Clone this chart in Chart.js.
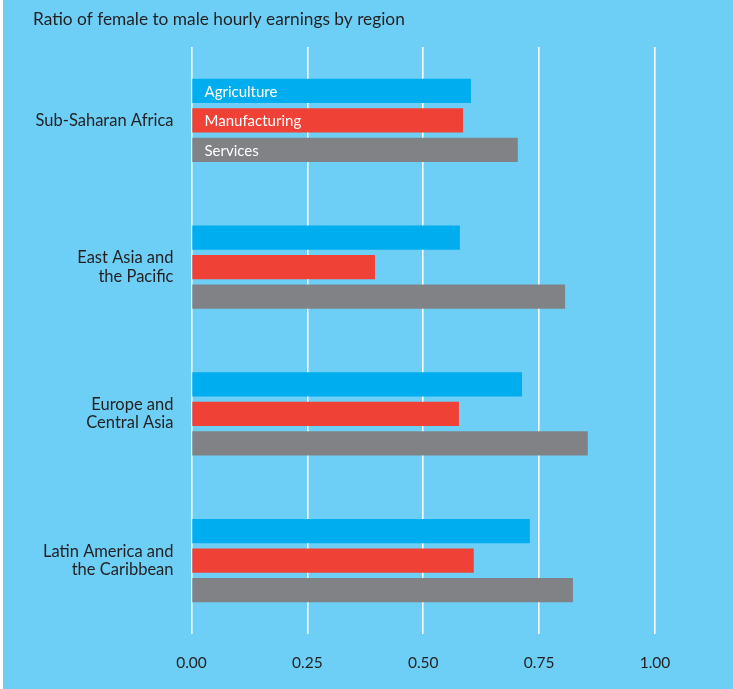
<!DOCTYPE html>
<html>
<head>
<meta charset="utf-8">
<script src="https://cdn.jsdelivr.net/npm/chart.js@4"></script>
<style>
  html, body { margin: 0; padding: 0; background: #ffffff; }
  #wrap { position: absolute; left: 3px; top: 0; width: 730px; height: 689px; background: #6dcff6; }
  canvas { display: block; }
</style>
</head>
<body>
<div id="wrap"><canvas id="c" width="730" height="689"></canvas></div>
<script>
const titleText = 'Ratio of female to male hourly earnings by region';
const categories = [
  ['Sub-Saharan Africa'],
  ['East Asia and', 'the Pacific'],
  ['Europe and', 'Central Asia'],
  ['Latin America and', 'the Caribbean']
];
const seriesNames = ['Agriculture', 'Manufacturing', 'Services'];
const agriculture = [0.603, 0.579, 0.713, 0.730];
const manufacturing = [0.586, 0.396, 0.577, 0.609];
const services = [0.704, 0.806, 0.855, 0.823];
const tickValues = [0, 0.25, 0.5, 0.75, 1.0];

const FONT = 'Lato, "Open Sans", sans-serif';
const TEXT = '#231f20';

const titlePlugin = {
  id: 'titleText',
  afterDraw(chart) {
    const ctx = chart.ctx;
    ctx.save();
    ctx.font = '17.3px ' + FONT;
    ctx.fillStyle = TEXT;
    ctx.textBaseline = 'middle';
    ctx.textAlign = 'left';
    ctx.fillText(titleText, 30, 19);
    ctx.restore();
  }
};

const inBarLabels = {
  id: 'inBarLabels',
  afterDatasetsDraw(chart) {
    const ctx = chart.ctx;
    const x0 = chart.scales.x.getPixelForValue(0);
    ctx.save();
    ctx.font = '15px ' + FONT;
    ctx.fillStyle = '#ffffff';
    ctx.textBaseline = 'middle';
    ctx.textAlign = 'left';
    chart.data.datasets.forEach((ds, i) => {
      const bar = chart.getDatasetMeta(i).data[0];
      ctx.fillText(ds.label, x0 + 13, bar.y + 1);
    });
    ctx.restore();
  }
};

new Chart(document.getElementById('c'), {
  type: 'bar',
  data: {
    labels: categories,
    datasets: [
      { label: seriesNames[0], data: agriculture, backgroundColor: '#00aeef' },
      { label: seriesNames[1], data: manufacturing, backgroundColor: '#ef4136' },
      { label: seriesNames[2], data: services, backgroundColor: '#808285' }
    ]
  },
  options: {
    indexAxis: 'y',
    responsive: false,
    animation: false,
    devicePixelRatio: 1,
    categoryPercentage: 0.603,
    barPercentage: 0.814,
    layout: { padding: { top: 47, left: 0, right: 78, bottom: 0 } },
    plugins: {
      legend: { display: false },
      title: { display: false },
      tooltip: { enabled: false }
    },
    scales: {
      x: {
        min: 0, max: 1,
        afterBuildTicks(scale) { scale.ticks = tickValues.map(v => ({ value: v })); },
        afterFit(scale) { scale.height = 55; },
        grid: { color: 'rgba(255,255,255,0.95)', lineWidth: 1.6, drawTicks: false },
        border: { display: false },
        ticks: {
          padding: 20,
          color: TEXT,
          font: { family: FONT, size: 15.5 },
          callback: (v) => Number(v).toFixed(2)
        }
      },
      y: {
        afterFit(scale) { scale.width = 188.5; },
        grid: { display: false },
        border: { display: false },
        ticks: {
          padding: 10,
          color: TEXT,
          font: { family: FONT, size: 16.5, lineHeight: 1.1 }
        }
      }
    }
  },
  plugins: [titlePlugin, inBarLabels]
});
</script>
</body>
</html>
